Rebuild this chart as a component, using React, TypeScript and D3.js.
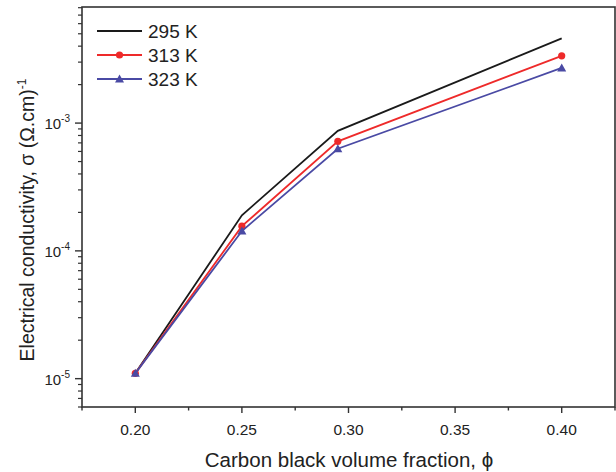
import React from "react";
import * as d3 from "d3";

const phi = [0.2, 0.25, 0.295, 0.4];
const s295 = [1.1e-5, 1.9e-4, 8.7e-4, 4.6e-3];
const s313 = [1.1e-5, 1.56e-4, 7.2e-4, 3.36e-3];
const s323 = [1.1e-5, 1.43e-4, 6.3e-4, 2.7e-3];
const seriesNames = ["295 K", "313 K", "323 K"];
const xTicks = [0.2, 0.25, 0.3, 0.35, 0.4];
const xMinorTicks = [0.175, 0.225, 0.275, 0.325, 0.375, 0.425];
const yExponents = [-5, -4, -3];

const W = 616, H = 472;
const L = 82, R = 615, T = 7, B = 407;

export default function App() {
  const x = d3.scaleLinear().domain([0.175, 0.425]).range([L, R]);
  const y = d3.scaleLog().domain([6e-6, 8.1e-3]).range([B, T]);
  const line = d3
    .line<[number, number]>()
    .x((d) => x(d[0]))
    .y((d) => y(d[1]));
  const series = [
    { name: seriesNames[0], vals: s295, color: "#1a1a1a", marker: "none" },
    { name: seriesNames[1], vals: s313, color: "#ee2a2a", marker: "circle" },
    { name: seriesNames[2], vals: s323, color: "#4a4aa4", marker: "tri" },
  ];
  const minor: number[] = [];
  for (let e = -6; e <= -3; e++) {
    for (let k = 2; k <= 9; k++) {
      const v = k * Math.pow(10, e);
      if (v >= 6e-6 && v <= 8.1e-3) minor.push(v);
    }
  }
  const marker = (m: string, cx: number, cy: number, c: string, key: string) => {
    if (m === "circle") return <circle key={key} cx={cx} cy={cy} r={3.6} fill={c} />;
    if (m === "tri")
      return (
        <path
          key={key}
          d={`M${cx},${cy - 4.5}L${cx + 4.5},${cy + 3.5}L${cx - 4.5},${cy + 3.5}Z`}
          fill={c}
        />
      );
    return null;
  };
  const axisColor = "#333";
  return (
    <svg
      width={W}
      height={H}
      style={{ position: "absolute", left: 0, top: 0, fontFamily: "Liberation Sans, Arial, sans-serif" }}
    >
      <rect width={W} height={H} fill="#fff" />
      {series.map((s) => (
        <g key={s.name}>
          <path
            d={line(phi.map((p, i) => [p, s.vals[i]]) as [number, number][]) || ""}
            fill="none"
            stroke={s.color}
            strokeWidth={1.8}
          />
          {phi.map((p, i) => marker(s.marker, x(p), y(s.vals[i]), s.color, s.name + i))}
        </g>
      ))}
      <rect x={L} y={T} width={R - L} height={B - T} fill="none" stroke={axisColor} strokeWidth={1.6} />
      {xTicks.map((t) => (
        <g key={t}>
          <line x1={x(t)} x2={x(t)} y1={B} y2={B + 6} stroke={axisColor} strokeWidth={1.4} />
          <text x={x(t)} y={435} textAnchor="middle" fontSize={15.5} fill="#222">
            {t.toFixed(2)}
          </text>
        </g>
      ))}
      {xMinorTicks.map((t) => (
        <line key={t} x1={x(t)} x2={x(t)} y1={B} y2={B + 3.5} stroke={axisColor} strokeWidth={1.4} />
      ))}
      {minor.map((v) => (
        <line key={v} x1={L - 4} x2={L} y1={y(v)} y2={y(v)} stroke={axisColor} strokeWidth={1.2} />
      ))}
      {yExponents.map((e) => {
        const v = Math.pow(10, e);
        return (
          <g key={e}>
            <line x1={L - 7} x2={L} y1={y(v)} y2={y(v)} stroke={axisColor} strokeWidth={1.4} />
            <text x={70} y={y(v) + 6} textAnchor="end" fontSize={15} fill="#222">
              10
              <tspan dy={-7} fontSize={10}>
                {e}
              </tspan>
            </text>
          </g>
        );
      })}
      {series.map((s, i) => {
        const ly = 31 + i * 24;
        return (
          <g key={s.name}>
            <line x1={97} x2={142} y1={ly} y2={ly} stroke={s.color} strokeWidth={1.8} />
            {marker(s.marker, 119.5, ly, s.color, "lg" + i)}
            <text x={148} y={ly + 7} fontSize={19} fill="#222">
              {s.name}
            </text>
          </g>
        );
      })}
      <text x={349} y={467} textAnchor="middle" fontSize={20.5} fill="#222">
        Carbon black volume fraction, ϕ
      </text>
      <text
        transform={`translate(34,220) rotate(-90)`}
        textAnchor="middle"
        fontSize={19.5}
        fill="#222"
      >
        Electrical conductivity, σ (Ω.cm)
        <tspan dy={-8} fontSize={12}>
          -1
        </tspan>
      </text>
    </svg>
  );
}
